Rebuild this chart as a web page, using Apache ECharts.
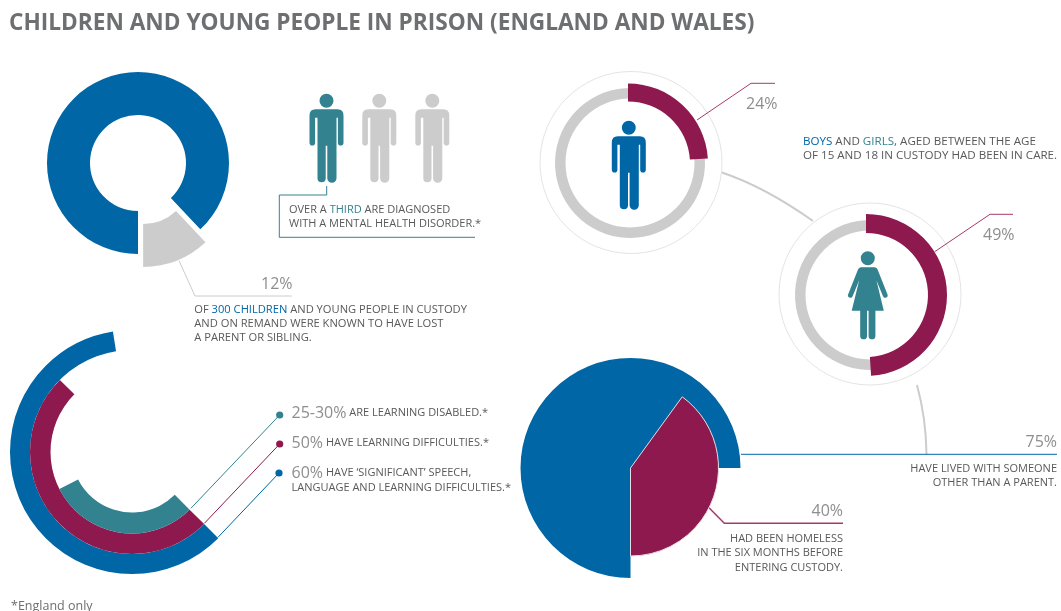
<!DOCTYPE html>
<html>
<head>
<meta charset="utf-8">
<title>Children and young people in prison</title>
<script src="https://cdn.jsdelivr.net/npm/echarts@6/dist/echarts.min.js"></script>
<style>
  html, body { margin: 0; padding: 0; background: #fff; }
  #chart { width: 1061px; height: 611px; }
</style>
</head>
<body>
<div id="chart"></div>
<script>
// values (percent)
var lostParent = [88, 12];
var boysInCare = [24, 76];
var girlsInCare = [49, 51];
var learningDisabled = [30, 70];
var learningDifficulties = [50, 50];
var speechDifficulties = [60, 40];
var livedElsewhere = [75, 25];
var homeless = [40, 60];

var BLUE = '#0066a6';
var CRIMSON = '#8d194e';
var TEAL = '#33828f';
var GREY = '#cccccc';
var NONE = 'transparent';
var TXT = '#58595b';
var PCT = '#8e8e8e';
var FONT = '"Open Sans", sans-serif';

// pictograms, origin = top left of figure
var MAN = 'M17 0A7 7 0 1 1 16.99 0ZM6 15.6H28Q34 15.6 34 22V49A2.8 2.8 0 0 1 28.4 49V24H27V84.5A4.1 4.1 0 0 1 17.8 84.5V52H16.2V84.5A4.1 4.1 0 0 1 8 84.5V24H5.6V49A2.8 2.8 0 0 1 0 49V22Q0 15.6 6 15.6Z';
var WOMAN = 'M19.4 0A7 7 0 1 1 19.39 0ZM13 16H26Q28.5 16 29.5 19L39 43A2.4 2.4 0 0 1 34.6 45L28 29L35.4 59.4H27V84.6A3.4 3.4 0 0 1 20.2 84.6V59.4H18.6V84.6A3.4 3.4 0 0 1 11.8 84.6V59.4H3.3L10.8 29L4.2 45A2.4 2.4 0 0 1 -0.2 43L9.3 19Q10.3 16 13 16Z';
echarts.graphic.registerShape('man', echarts.graphic.extendPath(MAN, {}));
echarts.graphic.registerShape('woman', echarts.graphic.extendPath(WOMAN, {}));

// one pie from a [value, rest] array, colours per slice
function ring(values, colors, center, radius, startAngle, extra) {
  var s = {
    type: 'pie',
    silent: true,
    animation: false,
    center: center,
    radius: radius,
    startAngle: startAngle,
    label: { show: false },
    labelLine: { show: false },
    emphasis: { disabled: true },
    data: values.map(function (v, i) {
      return { value: v, itemStyle: { color: colors[i] } };
    })
  };
  for (var k in extra) s[k] = extra[k];
  return s;
}

var myEcharts = echarts.init(document.getElementById('chart'));

// top left donut, grey slice pulled out
var lostSeries = ring(lostParent, [BLUE, GREY], [138, 163], [48, 91], -90, {
  selectedMode: 'single',
  selectedOffset: 14
});
lostSeries.data[1].selected = true;

var homelessSeries = ring(homeless, [CRIMSON, NONE], [630.5, 468], [0, 88], 54);
homelessSeries.data[0].itemStyle.borderColor = '#e8dde3';
homelessSeries.data[0].itemStyle.borderWidth = 1;

var series = [
  lostSeries,
  // boys
  ring(boysInCare, [NONE, GREY], [630, 163], [64.5, 75], 90),
  ring(boysInCare, [CRIMSON, NONE], [628, 163.5], [62, 80], 90),
  // girls
  ring(girlsInCare, [NONE, GREY], [870, 295], [64.5, 75], 90),
  ring(girlsInCare, [CRIMSON, NONE], [866, 295], [62, 81], 90),
  // learning arcs, all start at the same lower right angle
  ring(speechDifficulties, [BLUE, NONE], [132, 452], [102, 122], -45),
  ring(learningDifficulties, [CRIMSON, NONE], [132, 452], [81.5, 102], -45),
  ring(learningDisabled, [TEAL, NONE], [132, 452], [60.5, 81.5], -45),
  // lived with someone else / homeless
  ring(livedElsewhere, [BLUE, NONE], [630.5, 468], [0, 110], -90),
  homelessSeries
];

function line(points, color, width) {
  return {
    type: 'polyline',
    silent: true,
    shape: { points: points },
    style: { stroke: color, lineWidth: width, fill: null }
  };
}
function curve(x1, y1, cx, cy, x2, y2) {
  return {
    type: 'bezierCurve',
    silent: true,
    shape: { x1: x1, y1: y1, cpx1: cx, cpy1: cy, x2: x2, y2: y2 },
    style: { stroke: GREY, lineWidth: 2, fill: null }
  };
}
function dot(x, y, color) {
  return { type: 'circle', silent: true, z: 5, shape: { cx: x, cy: y, r: 3.6 }, style: { fill: color } };
}
function outline(x, y, r) {
  return {
    type: 'circle',
    silent: true,
    shape: { cx: x, cy: y, r: r },
    style: { fill: null, stroke: '#e4e4e4', lineWidth: 1 }
  };
}
function figure(kind, x, y, color) {
  return { type: kind, silent: true, x: x, y: y, style: { fill: color } };
}
function txt(str, x, y, align, size, color) {
  size = size || 11;
  color = color || TXT;
  var rich = {
    n: { fontSize: size, fontFamily: FONT, fill: TXT },
    b: { fontSize: size, fontFamily: FONT, fill: BLUE },
    t: { fontSize: size, fontFamily: FONT, fill: TEAL },
    p: { fontSize: 16, fontFamily: FONT, fill: PCT }
  };
  return {
    type: 'text',
    silent: true,
    x: x,
    y: y + 1,
    style: {
      text: str,
      rich: rich,
      align: align || 'left',
      verticalAlign: 'middle',
      fontSize: size,
      fontFamily: FONT,
      fill: color
    }
  };
}

var graphics = [
  // ring outlines and grey connectors
  outline(631, 162.5, 91),
  outline(870, 294, 91),
  curve(722, 172.5, 765, 187, 813, 221),
  curve(917, 385, 926, 418, 926.5, 454),

  // leader lines
  line([[326.7, 186], [326.7, 195], [279.3, 195], [279.3, 237.3], [475, 237.3]], TEAL, 1),
  line([[179, 260.7], [195, 296], [291.7, 296]], GREY, 1),
  line([[697, 120], [751, 83.3], [775, 83.3]], '#a63a6c', 1),
  line([[934.7, 251.7], [990, 214.3], [1013, 214.3]], '#a63a6c', 1),
  line([[741, 454.3], [1057, 454.3]], BLUE, 1),
  line([[708.5, 507.3], [724.3, 523.3], [843, 523.3]], '#a63a6c', 1.5),
  line([[190.9, 508.3], [279.7, 415]], TEAL, 1),
  line([[204.4, 523.3], [279.7, 444]], CRIMSON, 1),
  line([[218, 537.3], [279, 473]], BLUE, 1),
  dot(279.7, 415, TEAL),
  dot(279.7, 444, CRIMSON),
  dot(279, 473, BLUE),

  // pictograms
  figure('man', 309.5, 93.7, TEAL),
  figure('man', 362.3, 93.7, GREY),
  figure('man', 415.3, 93.7, GREY),
  figure('man', 611.8, 120.7, BLUE),
  figure('woman', 848.4, 251.3, TEAL),

  // texts
  txt('OVER A {t|THIRD} ARE DIAGNOSED', 289, 209.3),
  txt('WITH A MENTAL HEALTH DISORDER.*', 289, 223.3),
  txt('12%', 292.5, 283.3, 'right', 16, PCT),
  txt('OF {b|300 CHILDREN} AND YOUNG PEOPLE IN CUSTODY', 194.3, 308.7, 'left', 11.15),
  txt('AND ON REMAND WERE KNOWN TO HAVE LOST', 194.3, 323, 'left', 11.15),
  txt('A PARENT OR SIBLING.', 194.3, 337.3, 'left', 11.15),
  txt('24%', 746, 103, 'left', 16, PCT),
  txt('49%', 983, 234, 'left', 16, PCT),
  txt('{b|BOYS} AND {t|GIRLS}, AGED BETWEEN THE AGE', 803, 141, 'left', 11.6),
  txt('OF 15 AND 18 IN CUSTODY HAD BEEN IN CARE.', 803, 155, 'left', 11.6),
  txt('{p|25-30%} ARE LEARNING DISABLED.*', 291.5, 412),
  txt('{p|50%} HAVE LEARNING DIFFICULTIES.*', 291.5, 442),
  txt('{p|60%} HAVE \u2018SIGNIFICANT\u2019 SPEECH,', 291.5, 472),
  txt('LANGUAGE AND LEARNING DIFFICULTIES.*', 291.5, 486.7),
  txt('75%', 1057, 441, 'right', 16, PCT),
  txt('HAVE LIVED WITH SOMEONE', 1057, 468, 'right'),
  txt('OTHER THAN A PARENT.', 1057, 482, 'right'),
  txt('40%', 843, 510, 'right', 16, PCT),
  txt('HAD BEEN HOMELESS', 843, 538.3, 'right'),
  txt('IN THE SIX MONTHS BEFORE', 843, 552.3, 'right'),
  txt('ENTERING CUSTODY.', 843, 566.7, 'right'),
  txt('*England only', 11, 605, 'left', 12.5, '#6d6e70')
];

var option = {
  animation: false,
  backgroundColor: '#fff',
  title: {
    text: 'CHILDREN AND YOUNG PEOPLE IN PRISON (ENGLAND AND WALES)',
    left: 9,
    top: 12,
    padding: 0,
    textStyle: { color: '#6e6f71', fontSize: 22.65, fontWeight: 'bold', fontFamily: FONT }
  },
  series: series,
  graphic: graphics
};
myEcharts.setOption(option);
</script>
</body>
</html>
